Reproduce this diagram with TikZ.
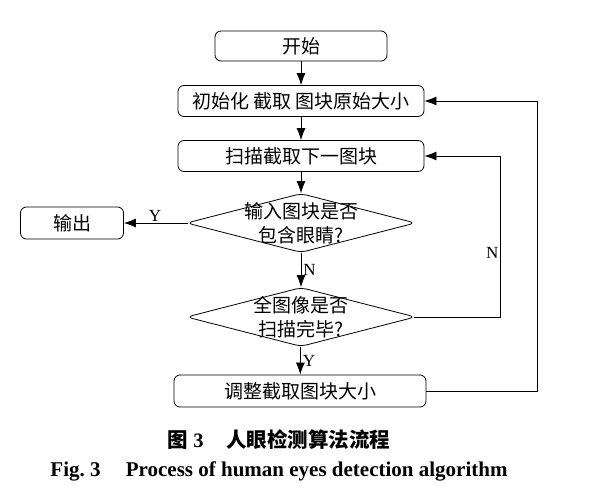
\documentclass[tikz,border=0pt]{standalone}
\usepackage{fontspec}
\usepackage{tikz}
\usetikzlibrary{shapes.geometric,arrows.meta}
\setmainfont{Liberation Serif}
\newfontfamily\cjk{Noto Sans CJK SC}
\tikzstyle{block} = [rectangle, draw, rounded corners=6pt, minimum width=246pt, minimum height=31pt, inner sep=2pt, font=\cjk\fontsize{19pt}{22pt}\selectfont]
\tikzstyle{decision} = [diamond, draw, rounded corners=6pt, minimum width=229pt, minimum height=59pt, inner sep=0pt]
\tikzstyle{dtext} = [align=center, inner sep=0pt, font=\cjk\fontsize{19pt}{24pt}\selectfont]

\begin{document}
\begin{tikzpicture}[>={Latex[length=12pt,width=9pt]}, auto, line width=0.8pt, font=\fontsize{17pt}{19pt}\selectfont]
  \useasboundingbox (0pt,0pt) rectangle (594pt,-500pt);
  \draw (301pt,-46pt)node[block, minimum width=172pt, minimum height=30pt](0){开始};
  \draw (301pt,-101pt)node[block](1){初始化 截取 图块原始大小};
  \draw (301pt,-156pt)node[block](2){扫描截取下一图块};
  \draw (301pt,-223pt)node[decision, label={[dtext]center:输入图块是否\\包含眼睛?}](3){};
  \draw (72pt,-223pt)node[block, minimum width=103pt, minimum height=32pt](4){输出};
  \draw (301pt,-317pt)node[decision, label={[dtext]center:全图像是否\\扫描完毕?}](5){};
  \draw (300pt,-391pt)node[block, minimum width=252pt, minimum height=32pt](6){调整截取图块大小};
  \draw (279pt,-440pt)node[font=\fontsize{20.5pt}{23pt}\selectfont\bfseries](7){{\cjk 图}~3\hspace{1.1em}{\cjk 人眼检测算法流程}};
  \draw (279pt,-471pt)node[font=\fontsize{21pt}{23pt}\selectfont\bfseries](8){Fig.~3\hspace{1.2em}Process of human eyes detection algorithm};
  \path[->] (0) edge (1);
  \path[->] (1) edge (2);
  \path[->] (2) edge (3);
  \path[->] (3) edge[shorten <=-2pt] node[above, inner sep=1pt]{Y}(4);
  \path[->] (3) edge node[right, inner sep=2pt]{N}(5);
  \path[->] (5) edge node[right, inner sep=2pt]{Y}(6);
  \draw[->, shorten <=-2pt] (5.east) -- ++(84pt,0) |- node[pos=0.2, left, inner sep=1pt]{N}(2.east);
  \draw[->] (6.east) -- ++(111pt,0) |- (1.east);
\end{tikzpicture}
\end{document}
